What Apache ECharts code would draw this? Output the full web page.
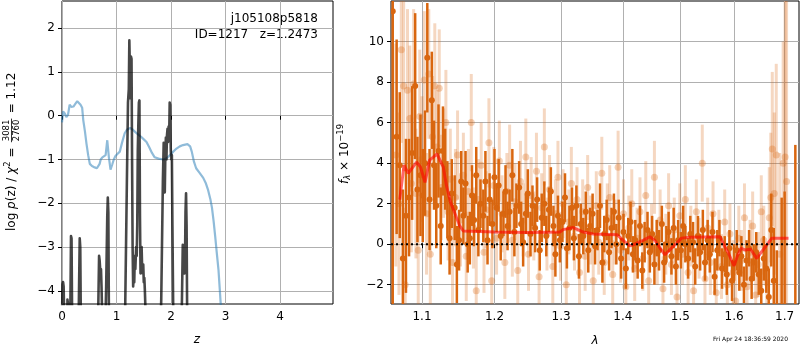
<!DOCTYPE html>
<html><head><meta charset="utf-8">
<script src="https://cdn.jsdelivr.net/npm/echarts@6/dist/echarts.min.js"></script>
<style>html,body{margin:0;padding:0;background:#fff}#c{width:800px;height:350px}</style>
</head><body><div id="c"></div><script>
// ---------- data ----------
const zTicks = [0, 1, 2, 3, 4];
const pzTicks = [-4, -3, -2, -1, 0, 1, 2];
const lamTicks = [1.1, 1.2, 1.3, 1.4, 1.5, 1.6, 1.7];
const fluxTicks = [-2, 0, 2, 4, 6, 8, 10];

// log p(z) prior-like curve (blue)
const bluePz = [[0.0,-0.15],[0.02,0.1],[0.05,0.05],[0.08,-0.03],[0.11,0.02],[0.14,0.25],[0.17,0.2],[0.21,0.21],[0.25,0.28],[0.28,0.33],[0.31,0.31],[0.34,0.25],[0.37,0.18],[0.39,-0.1],[0.42,-0.35],[0.45,-0.65],[0.48,-0.9],[0.51,-1.1],[0.55,-1.15],[0.6,-1.18],[0.64,-1.2],[0.67,-1.22],[0.69,-1.1],[0.71,-1.0],[0.74,-0.95],[0.77,-0.98],[0.8,-0.9],[0.83,-0.56],[0.86,-0.95],[0.89,-1.23],[0.92,-1.12],[0.95,-1.0],[0.98,-0.92],[1.02,-0.87],[1.06,-0.82],[1.1,-0.62],[1.15,-0.4],[1.19,-0.32],[1.25,-0.28],[1.3,-0.32],[1.35,-0.38],[1.4,-0.43],[1.45,-0.48],[1.5,-0.54],[1.55,-0.6],[1.6,-0.72],[1.65,-0.85],[1.7,-0.95],[1.77,-0.98],[1.86,-1.0],[1.92,-0.97],[1.98,-0.9],[2.04,-0.82],[2.1,-0.75],[2.16,-0.7],[2.22,-0.67],[2.3,-0.65],[2.35,-0.7],[2.38,-0.82],[2.42,-1.05],[2.46,-1.2],[2.52,-1.3],[2.59,-1.42],[2.64,-1.55],[2.68,-1.7],[2.72,-1.9],[2.75,-2.1],[2.78,-2.4],[2.81,-2.76],[2.84,-3.15],[2.87,-3.52],[2.91,-4.28],[2.95,-5.0]];

// log p(z) posterior (dark gray)
const grayPz = [[0.0,-4.6],[0.01,-3.85],[0.02,-3.8],[0.03,-3.9],[0.04,-4.6],[0.05,-6],[0.09,-6],[0.1,-4.2],[0.11,-4.3],[0.12,-6],[0.14,-6],[0.155,-4.2],[0.165,-2.75],[0.175,-2.8],[0.185,-4.5],[0.2,-6],[0.29,-6],[0.31,-4.2],[0.325,-2.8],[0.335,-3.0],[0.345,-4.6],[0.36,-6],[0.63,-6],[0.665,-4.4],[0.68,-3.2],[0.69,-3.3],[0.705,-3.6],[0.715,-3.5],[0.725,-3.9],[0.735,-4.5],[0.75,-6],[0.78,-6],[0.8,-4.5],[0.81,-3.9],[0.82,-3.9],[0.83,-2.3],[0.84,-1.87],[0.85,-2.2],[0.86,-4.5],[0.88,-6],[1.13,-6],[1.16,-4.3],[1.19,-1.5],[1.21,0.3],[1.225,0.6],[1.235,1.72],[1.245,1.7],[1.255,0.4],[1.265,1.35],[1.275,1.3],[1.285,-1.0],[1.295,-3.0],[1.305,-3.9],[1.315,-3.6],[1.325,-3.8],[1.335,-3.2],[1.345,-3.5],[1.36,-3.0],[1.37,-3.2],[1.38,-2.5],[1.39,-0.8],[1.40,-0.2],[1.41,0.3],[1.42,0.35],[1.43,-2.3],[1.44,-3.6],[1.45,-3.2],[1.46,-3.0],[1.47,-3.5],[1.48,-3.6],[1.49,-3.4],[1.50,-3.8],[1.51,-3.7],[1.52,-4.0],[1.53,-4.4],[1.55,-6],[1.78,-6],[1.82,-4.2],[1.85,-1.5],[1.865,-0.62],[1.875,-1.2],[1.885,-1.75],[1.895,-0.9],[1.905,-0.5],[1.915,-1.0],[1.925,-0.45],[1.935,-0.3],[1.945,-0.6],[1.955,-0.25],[1.965,-0.5],[1.975,0.3],[1.985,0.25],[1.995,-0.8],[2.005,-1.0],[2.015,-0.9],[2.025,-2.5],[2.04,-4.5],[2.06,-6],[2.17,-6],[2.2,-4.2],[2.215,-2.95],[2.225,-3.0],[2.235,-3.3],[2.245,-3.6],[2.255,-3.4],[2.265,-2.2],[2.275,-1.77],[2.285,-2.5],[2.295,-4.5],[2.31,-6],[4.97,-6]];

// best-fit model (red)
const modelLine = [[1.071,2.2],[1.0765,3.9],[1.082,3.5],[1.088,3.8],[1.093,4.05],[1.098,3.8],[1.104,3.05],[1.110,4.15],[1.115,4.3],[1.120,4.45],[1.124,4.15],[1.1285,3.8],[1.133,2.85],[1.1385,2.05],[1.144,1.55],[1.151,0.9],[1.156,0.65],[1.2,0.6],[1.25,0.58],[1.298,0.6],[1.303,0.72],[1.319,0.82],[1.335,0.6],[1.351,0.5],[1.39,0.47],[1.40,0.2],[1.412,-0.08],[1.42,0.0],[1.435,0.2],[1.446,0.37],[1.455,0.18],[1.464,-0.2],[1.4725,-0.52],[1.481,-0.28],[1.493,0.05],[1.502,0.3],[1.517,0.34],[1.573,0.37],[1.579,0.05],[1.589,-0.44],[1.600,-1.07],[1.606,-0.6],[1.613,-0.2],[1.621,-0.28],[1.632,-0.25],[1.644,-0.7],[1.654,-0.36],[1.664,-0.03],[1.674,0.3],[1.708,0.3]];

// spectrum 1 (dark): [lambda, flux, err]
const darkSpec = [[1.062,11.5,16],[1.067,5.3,4.8],[1.071,3.9,3.6],[1.075,-0.7,3.4],[1.079,1.4,3.8],[1.083,2.3,2.9],[1.087,4.5,3.3],[1.091,7.8,3.6],[1.094,2.7,2.6],[1.098,3.4,3.0],[1.101,2.4,2.3],[1.104,4.0,2.6],[1.107,9.2,2.7],[1.110,2.2,2.5],[1.113,7.1,2.4],[1.116,3.9,2.2],[1.119,1.9,2.1],[1.122,4.6,2.3],[1.125,0.9,1.9],[1.128,4.6,2.2],[1.131,3.7,2.0],[1.134,2.2,1.9],[1.137,0.3,1.8],[1.140,2.5,1.7],[1.144,1.8,1.6],[1.147,-1.0,1.9],[1.150,0.2,1.5],[1.153,3.1,1.5],[1.156,1.4,1.4],[1.159,3.0,1.6],[1.162,0.0,1.4],[1.165,0.3,1.3],[1.168,2.4,1.5],[1.171,1.2,1.3],[1.174,3.4,1.4],[1.177,0.7,1.3],[1.180,2.0,1.2],[1.184,1.4,1.3],[1.187,3.1,1.5],[1.190,0.2,1.2],[1.193,2.2,1.3],[1.197,1.0,1.2],[1.200,3.3,1.4],[1.203,1.8,1.2],[1.206,2.9,1.3],[1.209,0.4,1.2],[1.213,1.5,1.1],[1.216,2.6,1.3],[1.219,0.9,1.2],[1.222,1.6,1.1],[1.226,3.4,1.3],[1.229,0.6,1.2],[1.232,1.9,1.1],[1.236,2.8,1.3],[1.239,1.0,1.1],[1.242,0.1,1.2],[1.246,1.5,1.0],[1.249,2.5,1.2],[1.253,0.5,1.1],[1.256,1.9,1.0],[1.260,0.8,1.2],[1.263,2.2,1.1],[1.267,-0.3,1.0],[1.270,1.3,1.2],[1.274,2.0,1.1],[1.277,0.4,1.0],[1.281,1.7,1.1],[1.284,2.6,1.2],[1.288,0.9,1.0],[1.291,-0.5,1.1],[1.295,1.4,1.0],[1.298,0.2,1.1],[1.302,1.1,1.0],[1.306,2.3,1.2],[1.309,-0.2,1.0],[1.313,0.8,1.1],[1.317,1.8,1.0],[1.320,0.3,1.1],[1.324,1.9,1.0],[1.328,-0.6,1.1],[1.331,1.0,1.0],[1.335,0.4,0.9],[1.339,1.6,1.0],[1.343,-0.3,1.1],[1.346,0.9,0.9],[1.350,1.5,1.0],[1.354,-0.1,0.9],[1.358,0.7,1.0],[1.362,1.9,1.1],[1.366,-0.9,1.0],[1.369,0.5,0.9],[1.373,1.2,1.0],[1.377,-0.4,0.9],[1.381,0.8,1.0],[1.385,1.6,0.9],[1.389,0.0,1.0],[1.393,1.3,0.9],[1.397,-0.7,1.0],[1.401,0.6,0.9],[1.405,-1.2,1.0],[1.409,0.4,0.9],[1.413,1.1,1.0],[1.417,-0.5,0.9],[1.421,0.2,1.0],[1.425,-0.8,0.9],[1.429,0.9,1.0],[1.433,-1.3,0.9],[1.437,0.1,1.0],[1.442,0.7,0.9],[1.446,-0.4,1.0],[1.450,0.5,0.9],[1.454,-1.0,1.0],[1.458,0.3,0.9],[1.462,-0.3,1.0],[1.467,1.0,0.9],[1.471,-0.9,1.0],[1.475,0.0,0.9],[1.479,0.6,1.0],[1.484,-0.6,0.9],[1.488,0.8,1.0],[1.492,-1.1,0.9],[1.496,0.2,1.0],[1.501,-0.3,0.9],[1.505,0.9,1.0],[1.509,0.0,0.9],[1.514,-0.7,1.0],[1.518,0.5,0.9],[1.523,0.1,1.0],[1.527,-1.1,0.9],[1.532,0.4,1.0],[1.536,-0.4,0.9],[1.541,0.7,1.0],[1.545,-0.9,0.9],[1.550,0.2,1.0],[1.554,-0.5,0.9],[1.559,0.6,1.0],[1.563,-1.6,0.9],[1.568,-0.3,1.0],[1.572,0.3,0.9],[1.577,-1.2,1.0],[1.582,-0.5,0.9],[1.586,-1.5,1.0],[1.591,-0.2,0.9],[1.596,-1.8,1.0],[1.600,-0.9,0.9],[1.605,-0.3,1.0],[1.610,-1.4,0.9],[1.614,-0.6,1.0],[1.619,-2.0,0.9],[1.624,-0.8,1.0],[1.629,-0.2,0.9],[1.634,-1.7,1.0],[1.638,-0.9,0.9],[1.643,-0.4,1.0],[1.648,-1.5,1.0],[1.653,-2.3,1.1],[1.658,-0.7,1.1],[1.663,-1.2,1.2],[1.668,-2.6,1.4],[1.673,0.7,1.8],[1.678,-1.8,2.6],[1.684,-3.5,3.2],[1.694,-4.0,6.3],[1.700,-3.5,6.1],[1.722,-5.0,9.9]];

// spectrum 2 (light): [lambda, flux, err]
const lightSpec = [[1.066,4.4,5.5],[1.070,2.0,4.5],[1.073,9.6,4.6],[1.076,7.8,4.2],[1.078,-2.0,3.8],[1.081,7.6,4.0],[1.084,6.2,3.6],[1.086,3.0,3.4],[1.089,7.9,3.7],[1.092,2.5,3.2],[1.095,-0.3,3.0],[1.097,6.3,3.3],[1.100,4.2,3.1],[1.103,8.1,3.4],[1.106,1.5,3.0],[1.109,8.4,3.2],[1.111,-0.5,2.8],[1.114,5.3,3.0],[1.117,7.8,3.1],[1.120,4.8,2.8],[1.123,7.7,2.9],[1.126,2.8,2.6],[1.129,4.0,2.7],[1.132,6.0,2.6],[1.135,1.6,2.4],[1.138,3.2,2.5],[1.141,-0.9,2.3],[1.145,2.3,2.4],[1.148,4.4,2.2],[1.152,1.2,2.3],[1.156,3.4,2.1],[1.160,-0.6,2.2],[1.163,2.6,2.1],[1.167,6.0,2.4],[1.170,0.8,2.0],[1.174,-2.3,2.2],[1.177,2.2,2.0],[1.181,3.9,2.1],[1.185,-0.4,2.0],[1.188,1.7,1.9],[1.192,5.0,2.2],[1.196,-1.8,2.0],[1.199,2.9,1.9],[1.203,0.3,1.8],[1.207,4.1,2.0],[1.211,1.5,1.9],[1.215,-0.9,1.8],[1.218,2.6,1.9],[1.222,3.9,2.0],[1.226,0.2,1.8],[1.230,2.1,1.9],[1.234,-1.3,1.8],[1.238,3.1,2.0],[1.242,1.2,1.8],[1.246,4.3,1.9],[1.250,-0.5,1.8],[1.254,2.4,1.9],[1.258,0.9,1.7],[1.262,3.6,1.9],[1.266,-1.6,1.8],[1.270,1.8,1.7],[1.274,4.8,1.9],[1.278,0.5,1.8],[1.282,2.7,1.7],[1.287,-1.1,1.8],[1.291,1.5,1.7],[1.295,3.3,1.8],[1.299,-0.1,1.7],[1.303,2.0,1.7],[1.308,-2.0,1.8],[1.312,1.1,1.6],[1.316,3.0,1.8],[1.321,0.4,1.7],[1.325,2.2,1.6],[1.329,-1.4,1.7],[1.334,1.6,1.6],[1.338,-0.6,1.7],[1.342,2.8,1.6],[1.347,0.7,1.7],[1.351,-1.8,1.6],[1.356,1.9,1.7],[1.360,0.1,1.6],[1.365,3.5,1.8],[1.369,-0.9,1.6],[1.374,1.3,1.7],[1.378,2.3,1.6],[1.383,-1.5,1.7],[1.387,0.6,1.6],[1.392,3.8,1.8],[1.396,-0.3,1.6],[1.401,1.5,1.7],[1.405,-2.1,1.6],[1.410,0.8,1.6],[1.415,2.0,1.7],[1.420,-1.2,1.6],[1.424,0.3,1.5],[1.429,1.6,1.7],[1.434,-0.7,1.6],[1.439,2.4,1.7],[1.444,-1.8,1.6],[1.449,0.5,1.5],[1.454,3.3,1.8],[1.459,-0.4,1.6],[1.464,1.2,1.5],[1.469,-2.2,1.6],[1.474,0.0,1.5],[1.479,1.9,1.6],[1.484,-1.0,1.5],[1.489,0.7,1.6],[1.494,-2.6,1.7],[1.499,1.4,1.6],[1.504,-0.5,1.5],[1.509,2.2,1.7],[1.514,-1.4,1.6],[1.519,0.4,1.5],[1.524,-2.3,1.6],[1.529,1.6,1.6],[1.534,-0.2,1.5],[1.540,4.0,1.9],[1.545,-1.7,1.6],[1.550,0.8,1.5],[1.555,-0.9,1.6],[1.560,1.5,1.6],[1.566,-2.4,1.7],[1.571,0.2,1.5],[1.576,-1.1,1.6],[1.582,1.1,1.6],[1.587,-2.0,1.7],[1.592,0.5,1.5],[1.598,-1.4,1.6],[1.603,-2.8,1.8],[1.609,0.3,1.6],[1.614,-0.8,1.5],[1.620,1.3,1.7],[1.625,-2.1,1.6],[1.631,-0.4,1.6],[1.636,0.9,1.7],[1.642,-2.5,1.7],[1.647,-1.0,1.6],[1.653,1.6,1.8],[1.658,0.2,1.7],[1.664,-1.9,1.9],[1.669,1.3,2.5],[1.672,2.3,3.2],[1.675,4.7,3.8],[1.679,2.5,4.0],[1.683,4.4,4.5],[1.690,-0.5,5.0],[1.697,4.0,6.0],[1.701,4.3,9.5],[1.704,3.1,9.0]];

// ---------- layout ----------
const FONT = '"DejaVu Sans", sans-serif';
const LAM_MIN = 1.0598, LAM_MAX = 1.7296;
const F_MIN = -2.95, F_MAX = 12;
const minus = v => (v < 0 ? '\u2212' + Math.abs(v) : String(v));

const chart = echarts.init(document.getElementById('c'), null, {renderer: 'canvas'});

function errRender(barColor, lw, r, dotColor) {
  return function (params, api) {
    const x = api.value(0), y = api.value(1), e = api.value(2);
    const lo = Math.max(F_MIN, y - e), hi = Math.min(F_MAX, y + e);
    const children = [];
    if (hi > lo) {
      const a = api.coord([x, hi]), b = api.coord([x, lo]);
      children.push({type: 'line', shape: {x1: a[0], y1: a[1], x2: b[0], y2: b[1]}, style: {stroke: barColor, lineWidth: lw}});
    }
    if (y >= F_MIN && y <= F_MAX) {
      const p = api.coord([x, y]);
      children.push({type: 'circle', shape: {cx: p[0], cy: p[1], r: r}, style: {fill: dotColor}});
    }
    return {type: 'group', children};
  };
}

const ctx = document.createElement('canvas').getContext('2d');
function mw(t, font) { ctx.font = font; return ctx.measureText(t).width; }
function fnt(size, italic) { return (italic ? 'italic ' : '') + size + 'px ' + FONT; }
function txt(t, x, y, font, align) {
  return {type: 'text', x: x, y: y, style: {text: t, font: font, fill: '#000', align: align || 'left', verticalAlign: 'middle', textAlign: align || 'left', textVerticalAlign: 'middle'}};
}
function rotatedLabel(tokens, x, y) {
  let cx = 0; const children = [];
  tokens.forEach(tk => {
    if (tk.frac) {
      const f = fnt(8.5, false);
      const w = Math.max(mw(tk.num, f), mw(tk.den, f)) + 2;
      cx += 1.5;
      children.push(txt(tk.num, cx + w / 2, -5, f, 'center'));
      children.push(txt(tk.den, cx + w / 2, 4.5, f, 'center'));
      children.push({type: 'line', shape: {x1: cx, y1: -0.5, x2: cx + w, y2: -0.5}, style: {stroke: '#000', lineWidth: 0.8}});
      cx += w + 1.5;
    } else {
      const f = fnt(tk.size || 12, tk.italic);
      children.push(txt(tk.t, cx, tk.dy || 0, f, 'left'));
      cx += mw(tk.t, f);
    }
  });
  return {type: 'group', x: x, y: y, rotation: Math.PI / 2, children};
}

const axisCommon = {
  axisLine: {show: false},
  axisTick: {show: true, length: 4, lineStyle: {color: '#000', width: 1}},
  axisLabel: {color: '#000', fontSize: 12, fontFamily: FONT},
  splitLine: {show: true, lineStyle: {color: '#b0b0b0', width: 1}}
};

const option = {
  animation: false,
  backgroundColor: '#fff',
  grid: [
    {left: 62, top: 1, width: 271, height: 303, show: true, borderColor: '#000', borderWidth: 1, backgroundColor: 'transparent'},
    {left: 391, top: 1, width: 408, height: 303, show: true, borderColor: '#000', borderWidth: 1, backgroundColor: 'transparent'}
  ],
  xAxis: [
    Object.assign({}, axisCommon, {gridIndex: 0, type: 'value', min: 0, max: 4.97,
      axisTick: Object.assign({}, axisCommon.axisTick, {customValues: zTicks}),
      axisLabel: Object.assign({}, axisCommon.axisLabel, {customValues: zTicks, margin: 7, formatter: v => minus(v)})}),
    Object.assign({}, axisCommon, {gridIndex: 1, type: 'value', min: Math.log(LAM_MIN), max: Math.log(LAM_MAX),
      axisTick: Object.assign({}, axisCommon.axisTick, {customValues: lamTicks.map(Math.log)}),
      axisLabel: Object.assign({}, axisCommon.axisLabel, {customValues: lamTicks.map(Math.log), margin: 7, formatter: v => Math.exp(v).toFixed(1)})})
  ],
  yAxis: [
    Object.assign({}, axisCommon, {gridIndex: 0, type: 'value', min: -4.3, max: 2.62,
      axisTick: Object.assign({}, axisCommon.axisTick, {customValues: pzTicks}),
      axisLabel: Object.assign({}, axisCommon.axisLabel, {customValues: pzTicks, margin: 7, formatter: v => minus(v)})}),
    Object.assign({}, axisCommon, {gridIndex: 1, type: 'value', min: F_MIN, max: F_MAX,
      axisTick: Object.assign({}, axisCommon.axisTick, {customValues: fluxTicks}),
      axisLabel: Object.assign({}, axisCommon.axisLabel, {customValues: fluxTicks, margin: 7, formatter: v => minus(v)})})
  ],
  series: [
    {type: 'line', xAxisIndex: 0, yAxisIndex: 0, data: bluePz, showSymbol: false, clip: true,
      lineStyle: {color: 'rgba(31,119,180,0.5)', width: 2.2}},
    {type: 'line', xAxisIndex: 0, yAxisIndex: 0, data: grayPz, showSymbol: false, clip: true,
      lineStyle: {color: 'rgba(0,0,0,0.72)', width: 2.6, join: 'round'}},
    {type: 'custom', xAxisIndex: 1, yAxisIndex: 1, clip: true,
      data: lightSpec.map(d => [Math.log(d[0]), d[1], d[2]]), encode: {x: 0, y: 1},
      renderItem: errRender('rgba(217,102,15,0.26)', 3, 3.5, 'rgba(217,102,15,0.3)')},
    {type: 'custom', xAxisIndex: 1, yAxisIndex: 1, clip: true,
      data: darkSpec.map(d => [Math.log(d[0]), d[1], d[2]]), encode: {x: 0, y: 1},
      renderItem: errRender('#d9660f', 2.5, 3, '#d9660f')},
    {type: 'line', xAxisIndex: 1, yAxisIndex: 1, data: modelLine.map(d => [Math.log(d[0]), d[1]]), showSymbol: false, clip: true,
      lineStyle: {color: 'rgba(255,0,0,0.6)', width: 3}},
    {type: 'line', xAxisIndex: 1, yAxisIndex: 1, data: [[Math.log(LAM_MIN), 0], [Math.log(LAM_MAX), 0]], showSymbol: false,
      lineStyle: {color: '#000', width: 2, type: [2, 3]}}
  ],
  graphic: [
    txt('j105108p5818', 318, 19, fnt(12, false), 'right'),
    txt('ID=1217   z=1.2473', 318, 35, fnt(12, false), 'right'),
    txt('z', 197, 340, fnt(12, true), 'center'),
    txt('\u03bb', 595, 341, fnt(12, true), 'center'),
    txt('Fri Apr 24 18:36:59 2020', 788, 339, fnt(6, false), 'right'),
    rotatedLabel([
      {t: 'log'}, {t: ' '}, {t: 'p', italic: true}, {t: '(z) / '}, {t: '\u03c7', italic: true},
      {t: '2', size: 8.5, dy: -4.5}, {t: ' = '}, {frac: true, num: '3081', den: '2760'}, {t: ' = 1.12'}
    ], 12, 231),
    rotatedLabel([
      {t: 'f', italic: true}, {t: '\u03bb', italic: true, size: 8.5, dy: 3}, {t: ' \u00d7 10'},
      {t: '\u221219', size: 8.5, dy: -4.5}
    ], 345, 184)
  ]
};
chart.setOption(option);
</script></body></html>
